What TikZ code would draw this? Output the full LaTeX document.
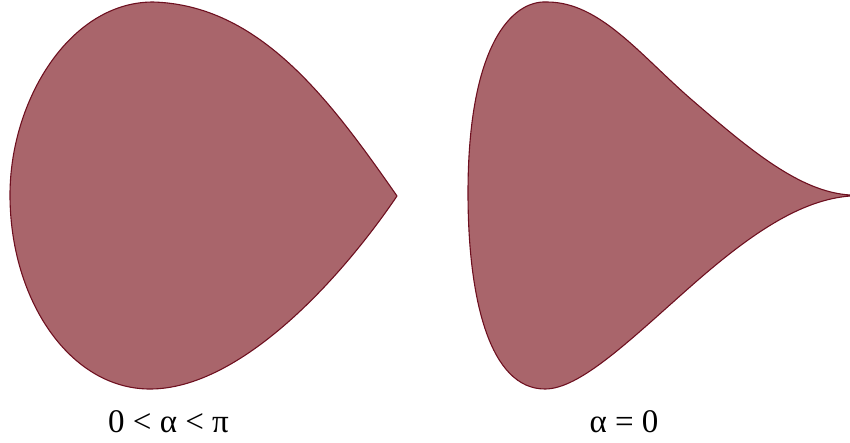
\documentclass[tikz,border=0pt]{standalone}
\usepackage{fontspec}
\setmainfont{Liberation Serif}
\definecolor{lobefill}{HTML}{A9656B}
\definecolor{lobeline}{HTML}{6E1020}
\begin{document}
\begin{tikzpicture}[x=1pt,y=-1pt,
  lobe/.style={fill=lobefill,draw=lobeline,line width=1.1pt,line join=round},
  caption/.style={font=\fontsize{33}{36}\selectfont,anchor=base,inner sep=0pt}]
\useasboundingbox (0,0) rectangle (850,442);
% left shape (0 < alpha < pi)
\path[lobe] (397,196) .. controls (330,100) and (260,5) .. (153,2)
  .. controls (70,2) and (10,100) .. (10,195)
  .. controls (10,300) and (70,389) .. (150,389)
  .. controls (240,389) and (340,280) .. (397,196) -- cycle;
% right shape (alpha = 0)
\path[lobe] (850,195) .. controls (800,192) and (750,150) .. (692,100)
  .. controls (640,55) and (600,2) .. (547,2)
  .. controls (512,0) and (468,45) .. (468,193)
  .. controls (468,300) and (490,389) .. (545,389)
  .. controls (580,389) and (630,340) .. (690,287)
  .. controls (750,234) and (800,200) .. (850,196) -- cycle;
\node[caption] (capL) at (168.5,432) {0 < α < π};
\node[caption] (capR) at (624,432) {α = 0};
\end{tikzpicture}
\end{document}
